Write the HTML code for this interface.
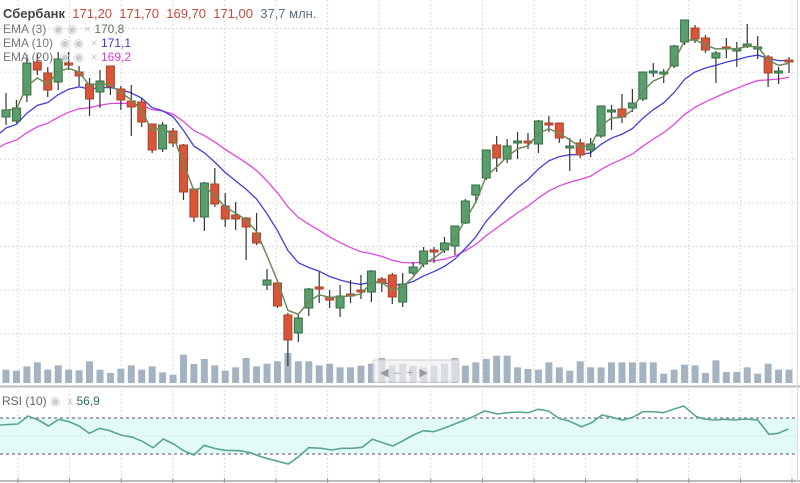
<!DOCTYPE html>
<html><head><meta charset="utf-8"><style>
html,body{margin:0;padding:0;background:#fff;}
body{width:800px;height:483px;overflow:hidden;position:relative;font-family:"Liberation Sans",sans-serif;}
.t{position:absolute;white-space:nowrap;}
</style></head><body>
<svg id="s" width="800" height="483" style="position:absolute;left:0;top:0"></svg>
<div class="t" style="left:3px;top:6px;font-size:13px;color:#444;font-weight:bold">Сбербанк <span style="font-weight:normal;color:#c8493a">&nbsp;171,20 &nbsp;171,70 &nbsp;169,70 &nbsp;171,00</span> <span style="font-weight:normal;color:#5b7080">&nbsp;37,7 млн.</span></div>
<div class="t" style="left:3px;top:22px;font-size:12px;color:#777">EMA (3) <span style="color:#ccc">&nbsp;&#9673; &#9673; &nbsp;×</span> <span style="color:#557a50">170,8</span></div>
<div class="t" style="left:3px;top:36px;font-size:12px;color:#777">EMA (10) <span style="color:#ccc">&nbsp;&#9673; &#9673; &nbsp;×</span> <span style="color:#3a3ad0">171,1</span></div>
<div class="t" style="left:3px;top:50px;font-size:12px;color:#777">EMA (20) <span style="color:#ccc">&nbsp;&#9673; &#9673; &nbsp;×</span> <span style="color:#d83ad8">169,2</span></div>
<div class="t" style="left:2px;top:394px;font-size:12px;color:#666">RSI (10) <span style="color:#ccc">&#9673; &nbsp;x</span> <span style="color:#2a6e60">56,9</span></div>
<script>
var S=document.getElementById('s'),h='';
function L(x1,y1,x2,y2,c,w,d){h+='<line x1="'+x1+'" y1="'+y1+'" x2="'+x2+'" y2="'+y2+'" stroke="'+c+'" stroke-width="'+(w||1)+'"'+(d?' stroke-dasharray="'+d+'"':'')+'/>';}
function R(x,y,w,hh,f,s){h+='<rect x="'+x+'" y="'+y+'" width="'+w+'" height="'+hh+'" fill="'+f+'"'+(s?' stroke="'+s+'" stroke-width="1"':'')+'/>';}
for(var gx=18;gx<800;gx+=51.6){L(gx,0,gx,383,'#dcdcdc',1,'2,2');L(gx,390,gx,480,'#dcdcdc',1,'2,2');}
for(var gy=28.5;gy<350;gy+=43.6){L(0,gy,797,gy,'#dcdcdc',1,'2,2');}
var V=[90,93,80,68,90,77,90,92,65,90,100,87,77,90,80,98,105,45,73,58,77,93,83,55,80,72,65,40,65,65,77,72,83,83,78,72,55,77,72,78,83,78,72,55,78,68,58,48,48,83,88,90,68,83,93,65,83,83,68,68,68,68,68,102,90,75,77,100,62,97,97,83,102,72,90,90];
for(var i=0;i<V.length;i++){var x=6+10.44*i,hv=(130-V[i])/3;R(x-3.5,383-hv,7,hv,'#a3b3c1');}
var C=[[117,110,93,125],[121,108,100,123],[95,63,55,102],[62,70,53,75],[73,90,67,97],[82,59,52,90],[63,65,52,70],[72,76,66,86],[84,99,78,116],[92,81,70,108],[66,87,66,95],[89,100,86,110],[101,107,85,136],[102,122,98,127],[124,150,124,153],[149,125,122,152],[131,143,128,147],[145,192,144,200],[189,217,189,222],[217,183,182,231],[184,204,168,207],[206,219,193,227],[215,219,202,230],[218,227,217,260],[233,243,213,245],[285,280,269,290],[283,306,282,308],[315,340,313,366],[333,318,313,342],[308,289,288,316],[287,288,272,303],[297,300,290,308],[308,296,285,317],[294,295,280,303],[290,292,275,299],[292,271,270,302],[279,283,277,292],[275,297,273,304],[302,284,273,307],[273,267,262,275],[264,251,247,267],[250,252,247,263],[250,243,237,253],[246,226,226,255],[223,201,199,224],[195,185,185,202],[178,150,150,180],[145,158,136,172],[159,146,139,163],[142,141,132,159],[141,143,133,149],[144,121,120,153],[123,124,116,132],[123,138,123,143],[147,146,138,171],[143,155,139,158],[150,144,138,157],[136,106,106,138],[112,110,105,130],[109,117,94,123],[108,103,89,112],[99,72,72,101],[72,71,63,77],[74,72,69,83],[66,46,45,68],[42,20,20,45],[28,39,25,43],[38,50,35,53],[58,53,51,83],[47,48,38,58],[50,49,42,67],[45,44,24,48],[49,47,36,59],[57,73,55,87],[73,71,67,84],[60,61,57,73]];
var e3=[],e10=[],e20=[],a=C[0][1],b=132,c=147;
for(i=0;i<C.length;i++){var cl=C[i][1];a=a+(cl-a)*0.5;b=b+(cl-b)*2/11;c=c+(cl-c)*2/21;var x=6+10.44*i;e3.push(x+','+a);e10.push(x+','+b);e20.push(x+','+c);}
h+='<polyline points="0,147 '+e20.join(' ')+'" fill="none" stroke="#e046e0" stroke-width="1.3"/>';
h+='<polyline points="0,133 '+e10.join(' ')+'" fill="none" stroke="#4040d8" stroke-width="1.3"/>';
for(i=0;i<C.length;i++){var d=C[i],x=6+10.44*i,up=d[1]<d[0];var col=up?'#5a9e6e':'#d9553a',st=up?'#2f6e40':'#a8432a';
L(x,d[2],x,d[3],'#333',1.2);var t=Math.min(d[0],d[1]),hh=Math.max(Math.abs(d[0]-d[1]),2);R(x-4,t,8,hh,col,st);}
h+='<polyline points="'+e3.join(' ')+'" fill="none" stroke="#6b8a5a" stroke-width="1.5"/>';
h+='<rect x="373" y="360" width="86" height="22" rx="2" fill="rgba(240,240,240,0.7)" stroke="#ccc"/>';
h+='<text x="380" y="376" font-size="11" fill="#999" font-family="Liberation Sans">◀ &nbsp;– &nbsp;+ &nbsp;▶</text>';
L(0,386.5,800,386.5,'#bbb',2);L(0,481,800,481,'#bbb',2);L(797.5,0,797.5,483,'#ddd',1);
R(0,418,797,36,'#e3fbf6');
L(0,436,797,436,'#d0e8e0',1,'2,2');
L(0,418,797,418,'#777',1.2,'3,3');L(0,454,797,454,'#777',1.2,'3,3');
var P=[0,255,35,252,55,228,75,240,95,258,115,238,135,245,155,258,175,280,195,265,215,272,237,285,260,292,280,305,300,323,320,297,340,312,360,332,380,345,400,316,420,325,440,331,470,332,490,338,515,352,540,362,565,372,585,350,605,323,630,325,650,330,670,325,690,325,710,322,730,298,750,308,770,318,790,302,810,285,830,272,850,275,870,265,895,250,920,235,950,213,975,222,995,218,1015,216,1035,218,1055,208,1075,213,1095,235,1115,243,1140,260,1160,248,1180,225,1200,232,1220,240,1240,232,1260,215,1280,215,1300,218,1320,208,1340,198,1365,230,1380,237,1400,240,1420,238,1440,240,1460,237,1485,240,1507,283,1525,280,1545,267],pp=[];
for(i=0;i<P.length;i+=2)pp.push((P[i]/1.96).toFixed(1)+','+(340+P[i+1]/3).toFixed(1));
h+='<polyline points="'+pp.join(' ')+'" fill="none" stroke="#5aa58f" stroke-width="1.6"/>';
for(gx=18;gx<800;gx+=51.6)L(gx,478,gx,483,'#999',1);
S.innerHTML=h;
</script>
</body></html>
